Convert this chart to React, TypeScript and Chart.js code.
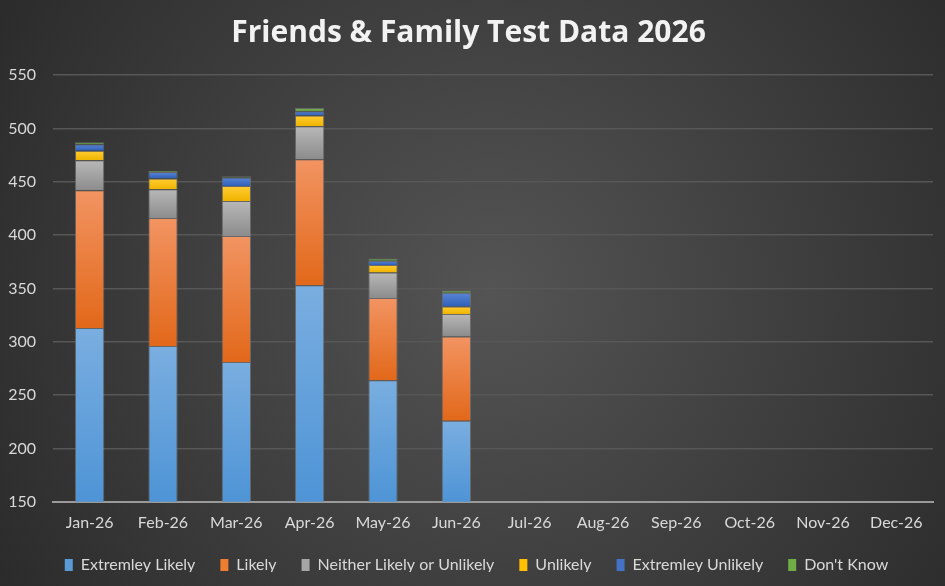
import React, { useEffect, useRef } from "react";
import { Chart, registerables } from "chart.js";

Chart.register(...registerables);

const months = [
  "Jan-26", "Feb-26", "Mar-26", "Apr-26", "May-26", "Jun-26",
  "Jul-26", "Aug-26", "Sep-26", "Oct-26", "Nov-26", "Dec-26",
];

const extremelyLikely = [313, 296, 281, 353, 264, 226];
const likely = [129, 120, 118, 118, 77, 79];
const neither = [28, 27, 33, 31, 24, 21];
const unlikely = [9, 10, 14, 10, 7, 7];
const extremelyUnlikely = [6, 6, 8, 4, 4, 13];
const dontKnow = [2, 1, 1, 3, 2, 2];

const seriesNames = [
  "Extremley Likely",
  "Likely",
  "Neither Likely or Unlikely",
  "Unlikely",
  "Extremley Unlikely",
  "Don't Know",
];
const seriesValues = [extremelyLikely, likely, neither, unlikely, extremelyUnlikely, dontKnow];

// top (light) and bottom (dark) shade of each series fill
const shades: [string, string][] = [
  ["#7aaee0", "#4e94d6"],
  ["#f29462", "#e2681a"],
  ["#b8b8b8", "#8c8c8c"],
  ["#ffcc33", "#f0b400"],
  ["#5a86d4", "#2f5fb8"],
  ["#7ab85a", "#5f9c3f"],
];
const legendColors = ["#5b9bd5", "#ed7d31", "#a5a5a5", "#ffc000", "#4472c4", "#70ad47"];

const FONT = "Lato, 'Open Sans', sans-serif";
const TITLE_FONT = "'Open Sans', Lato, sans-serif";

// legend box is trimmed vertically so the plot reaches closer to it
const LEGEND_TRIM = 11;
const LEGEND_SHIFT_X = 8;

const backgroundPlugin = {
  id: "panelBackground",
  beforeDraw(chart: any) {
    const { ctx, width, height } = chart;
    ctx.save();
    const g = ctx.createRadialGradient(width * 0.52, height * 0.5, 0, width * 0.52, height * 0.5, width * 0.62);
    g.addColorStop(0, "#545454");
    g.addColorStop(1, "#2a2a2a");
    ctx.fillStyle = g;
    ctx.fillRect(0, 0, width, height);
    ctx.restore();
  },
};

const compactLegendPlugin = {
  id: "compactLegend",
  beforeUpdate(chart: any) {
    const legend = chart.legend;
    if (!legend || legend.__compact) return;
    legend.__compact = true;
    const fit = legend.fit;
    legend.fit = function (this: any) {
      fit.call(this);
      this.height -= LEGEND_TRIM;
    };
    const draw = legend.draw;
    legend.draw = function (this: any, ...args: any[]) {
      const ctx = this.ctx;
      ctx.save();
      ctx.translate(LEGEND_SHIFT_X, -LEGEND_TRIM);
      draw.apply(this, args);
      ctx.restore();
    };
  },
};

export default function App() {
  const canvasRef = useRef<HTMLCanvasElement | null>(null);

  useEffect(() => {
    document.body.style.margin = "0";
    const canvas = canvasRef.current;
    if (!canvas) return;

    const datasets = seriesValues.map((vals, si) => ({
      label: seriesNames[si],
      data: vals,
      backgroundColor: (c: any) => {
        const chart = c.chart;
        const y = chart.scales && chart.scales.y;
        if (!y || c.dataIndex === undefined || c.type !== "data") return legendColors[si];
        let base = 0;
        for (let k = 0; k < si; k++) base += seriesValues[k][c.dataIndex] || 0;
        const top = base + (vals[c.dataIndex] || 0);
        const yTop = y.getPixelForValue(top);
        const yBot = Math.min(y.getPixelForValue(base), chart.chartArea.bottom);
        if (!isFinite(yTop) || !isFinite(yBot) || yBot - yTop < 0.5) return shades[si][1];
        const g = chart.ctx.createLinearGradient(0, yTop, 0, yBot);
        g.addColorStop(0, shades[si][0]);
        g.addColorStop(1, shades[si][1]);
        return g;
      },
      borderColor: "rgba(120,120,120,0.7)",
      borderWidth: 1,
      barPercentage: 0.4,
      categoryPercentage: 1,
    }));

    const chart = new Chart(canvas, {
      type: "bar",
      data: { labels: months, datasets: datasets as any },
      plugins: [backgroundPlugin, compactLegendPlugin],
      options: {
        animation: false,
        responsive: false,
        maintainAspectRatio: false,
        layout: { padding: { left: 4, right: 12, top: 10, bottom: 3 } },
        plugins: {
          title: {
            display: true,
            text: "Friends & Family Test Data 2026",
            color: "#f2f2f2",
            font: { family: TITLE_FONT, size: 30, weight: "bold" },
            padding: { top: 5, bottom: 24 },
          },
          legend: {
            position: "bottom",
            labels: {
              color: "#d9d9d9",
              font: { family: FONT, size: 16 },
              boxWidth: 8,
              boxHeight: 12,
              padding: 25,
              generateLabels: (ch: any) =>
                ch.data.datasets.map((d: any, i: number) => ({
                  text: d.label,
                  fillStyle: legendColors[i],
                  strokeStyle: legendColors[i],
                  lineWidth: 0,
                  fontColor: "#d9d9d9",
                  datasetIndex: i,
                  hidden: false,
                })),
            },
          },
          tooltip: { enabled: false },
        },
        scales: {
          x: {
            stacked: true,
            grid: { display: false, drawTicks: false },
            border: { color: "#9a9a9a", width: 2 },
            ticks: { color: "#d9d9d9", font: { family: FONT, size: 16 }, padding: 11 },
          },
          y: {
            stacked: true,
            min: 150,
            max: 550,
            afterFit: (scale: any) => {
              scale.width = 49;
            },
            grid: { color: "#575757", lineWidth: 1.5, drawTicks: false },
            border: { display: false },
            ticks: {
              stepSize: 50,
              color: "#d9d9d9",
              font: { family: FONT, size: 16 },
              padding: 17,
            },
          },
        },
      },
    });

    return () => chart.destroy();
  }, []);

  return (
    <div style={{ position: "absolute", left: 0, top: 0, width: 945, height: 586 }}>
      <canvas ref={canvasRef} width={945} height={586} style={{ display: "block" }} />
    </div>
  );
}
